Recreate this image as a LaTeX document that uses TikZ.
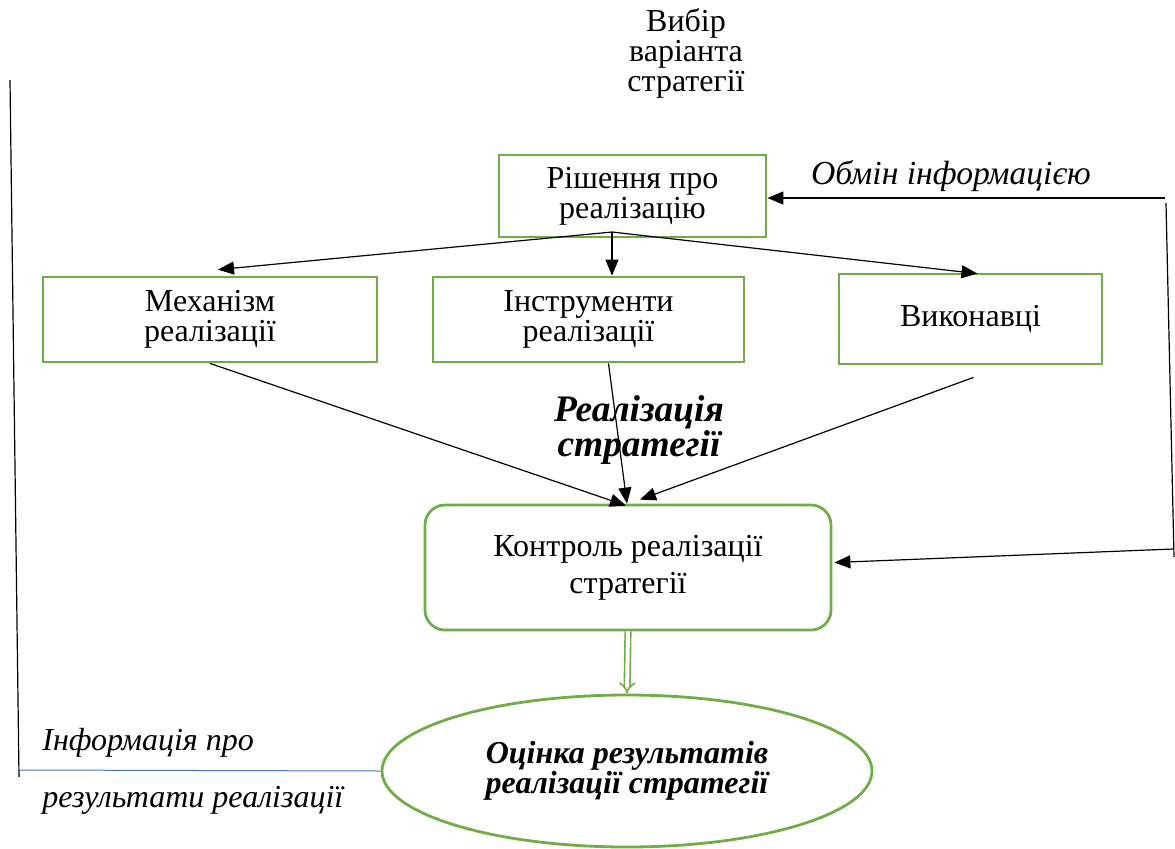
\documentclass[tikz,border=0pt]{standalone}
\usepackage{fontspec}
\setmainfont{Liberation Serif}
\usepackage{xcolor}
\usetikzlibrary{shapes.geometric, arrows.meta, positioning, calc}

\definecolor{boxgreen}{HTML}{70AD47}
\definecolor{lineblue}{HTML}{4472C4}

\begin{document}
\begin{tikzpicture}[x=0.5pt, y=-0.5pt,
  txt/.style={font=\fontsize{16}{15}\selectfont, align=center, inner sep=0pt},
  box/.style={txt, draw=boxgreen, line width=1.4pt, rectangle},
  arr/.style={-{Triangle[length=8pt, width=6.5pt]}, line width=0.6pt, black}
]
\useasboundingbox (0,0) rectangle (1175,848);

% Top label
\node[txt, font=\fontsize{16}{13}\selectfont] (choice) at (686, 53) {Вибір\\варіанта\\стратегії};

% Boxes
\node[box, minimum width=133.5pt, minimum height=41pt, font=\fontsize{16}{13}\selectfont] (decision) at (632.5, 196) {Рішення про\\реалізацію};
\node[box, minimum width=167pt, minimum height=42.5pt] (mech) at (210, 319.5) {Механізм\\реалізації};
\node[box, minimum width=155.5pt, minimum height=42.5pt] (tools) at (588.5, 319.5) {Інструменти\\реалізації};
\node[box, minimum width=131.5pt, minimum height=45pt] (execs) at (970.5, 319) {Виконавці};
\node[box, rounded corners=10pt, minimum width=203pt, minimum height=62.5pt,
  font=\fontsize{16}{18.5}\selectfont] (control) at (628, 567.5) {Контроль реалізації\\стратегії};
\node[txt, draw=boxgreen, line width=1.4pt, ellipse, minimum width=245pt, minimum height=76pt,
  font=\fontsize{16}{15}\selectfont\bfseries\itshape] (eval) at (627, 771) {Оцінка результатів\\реалізації стратегії};

% Labels
\node[txt, font=\fontsize{18.7}{14.5}\selectfont\bfseries\itshape] (impl) at (639, 430) {Реалізація\\стратегії};
\node[txt, font=\fontsize{16.8}{14}\selectfont\itshape] (exchange) at (951, 176) {Обмін інформацією};
\node[txt, font=\fontsize{16}{14}\selectfont\itshape, anchor=west] (info1) at (42, 743) {Інформація про};
\node[txt, font=\fontsize{16}{14}\selectfont\itshape, anchor=west] (info2) at (42, 800) {результати реалізації};

% Decision to the three boxes
\coordinate (fork) at (612, 232);
\draw[arr] (fork) -- ($(mech.north)+(8,-6)$);
\draw[arr] (fork) -- (fork |- tools.north);
\draw[arr] (fork) -- ($(execs.north)+(7,1)$);

% Three boxes to control
\draw[arr] (mech.south) -- ($(control.north)+(-2,2)$);
\draw[arr] ($(tools.south)+(20,0)$) -- ($(control.north)+(-1,0)$);
\draw[arr] ($(execs.south)+(3,12)$) -- ($(control.north)+(12,-4)$);

% Control to evaluation
\draw[boxgreen, double, double distance=2pt, line width=0.8pt, -{Implies}] (control.south) -- (eval.north);

% Information exchange loop
\coordinate (fbTop) at (1165, 198);
\coordinate (fbMid) at (1166, 203);
\coordinate (fbLow) at (1174, 557);
\coordinate (fbBot) at (1173, 549);
\draw[arr] (fbTop) -- (fbTop -| decision.east);
\draw[line width=0.6pt] (fbMid) -- (fbLow);
\draw[arr] (fbBot) -- ($(control.east)+(2,-5)$);

% Results feedback
\coordinate (lfTop) at (10, 80);
\coordinate (lfBot) at (19, 777);
\coordinate (lfMid) at (19, 770);
\draw[line width=0.6pt] (lfTop) -- (lfBot);
\draw[lineblue, line width=0.5pt] (lfMid) -- (eval.west);
\end{tikzpicture}
\end{document}
